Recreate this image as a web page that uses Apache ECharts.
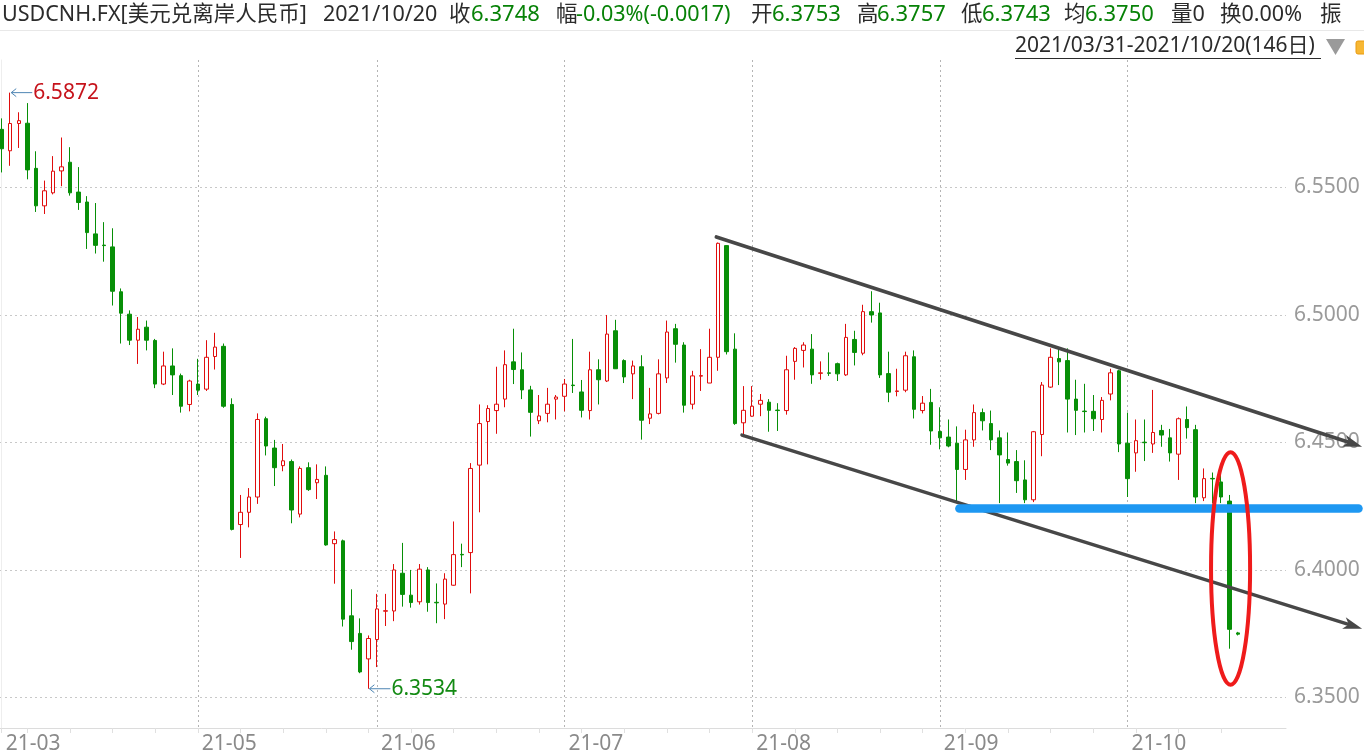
<!DOCTYPE html>
<html><head><meta charset="utf-8">
<script src="https://cdn.jsdelivr.net/npm/echarts@6/dist/echarts.min.js"></script>
<style>html,body{margin:0;padding:0;background:#fff}#c{width:1364px;height:756px}</style>
</head><body><div id="c"></div>
<script>
// ---- categories (every trading day, 146) ----
const dates = [
'2021-03-31',
'2021-04-01','2021-04-02','2021-04-05','2021-04-06','2021-04-07','2021-04-08','2021-04-09','2021-04-12','2021-04-13','2021-04-14','2021-04-15','2021-04-16','2021-04-19','2021-04-20','2021-04-21','2021-04-22','2021-04-23','2021-04-26','2021-04-27','2021-04-28','2021-04-29','2021-04-30',
'2021-05-03','2021-05-04','2021-05-05','2021-05-06','2021-05-07','2021-05-10','2021-05-11','2021-05-12','2021-05-13','2021-05-14','2021-05-17','2021-05-18','2021-05-19','2021-05-20','2021-05-21','2021-05-24','2021-05-25','2021-05-26','2021-05-27','2021-05-28','2021-05-31',
'2021-06-01','2021-06-02','2021-06-03','2021-06-04','2021-06-07','2021-06-08','2021-06-09','2021-06-10','2021-06-11','2021-06-14','2021-06-15','2021-06-16','2021-06-17','2021-06-18','2021-06-21','2021-06-22','2021-06-23','2021-06-24','2021-06-25','2021-06-28','2021-06-29','2021-06-30',
'2021-07-01','2021-07-02','2021-07-05','2021-07-06','2021-07-07','2021-07-08','2021-07-09','2021-07-12','2021-07-13','2021-07-14','2021-07-15','2021-07-16','2021-07-19','2021-07-20','2021-07-21','2021-07-22','2021-07-23','2021-07-26','2021-07-27','2021-07-28','2021-07-29','2021-07-30',
'2021-08-02','2021-08-03','2021-08-04','2021-08-05','2021-08-06','2021-08-09','2021-08-10','2021-08-11','2021-08-12','2021-08-13','2021-08-16','2021-08-17','2021-08-18','2021-08-19','2021-08-20','2021-08-23','2021-08-24','2021-08-25','2021-08-26','2021-08-27','2021-08-30','2021-08-31',
'2021-09-01','2021-09-02','2021-09-03','2021-09-06','2021-09-07','2021-09-08','2021-09-09','2021-09-10','2021-09-13','2021-09-14','2021-09-15','2021-09-16','2021-09-17','2021-09-20','2021-09-21','2021-09-22','2021-09-23','2021-09-24','2021-09-27','2021-09-28','2021-09-29','2021-09-30',
'2021-10-01','2021-10-04','2021-10-05','2021-10-06','2021-10-07','2021-10-08','2021-10-11','2021-10-12','2021-10-13','2021-10-14','2021-10-15','2021-10-18','2021-10-19','2021-10-20'
];

// ---- OHLC series ----
const openP = [
6.5728,6.5644,6.5751,6.5752,6.5575,6.5428,6.5479,6.5565,6.5599,6.5482,
6.5443,6.5318,6.5274,6.5267,6.5091,6.5003,6.4901,6.4952,6.4900,6.4729,
6.4800,6.4762,6.4649,6.4729,6.4709,6.4837,6.4877,6.4649,6.4178,6.4226,
6.4286,6.4593,6.4478,6.4409,6.4425,6.4219,6.4401,6.4342,6.4371,6.4103,
6.4114,6.3820,6.3751,6.3651,6.3727,6.3838,6.3839,6.3987,6.3901,6.3875,
6.4000,6.3873,6.3866,6.3940,6.4061,6.4068,6.4411,6.4582,6.4625,6.4670,
6.4816,6.4785,6.4706,6.4585,6.4614,6.4670,6.4681,6.4725,6.4698,6.4625,
6.4785,6.4741,6.4938,6.4821,6.4769,6.4797,6.4595,6.4614,6.4753,6.4946,
6.4882,6.4650,6.4760,6.4733,6.4834,6.5272,6.4866,6.4577,6.4603,6.4650,
6.4658,6.4627,6.4625,6.4818,6.4861,6.4866,6.4771,6.4773,6.4809,6.4765,
6.4904,6.4850,6.5013,6.5008,6.4770,6.4700,6.4705,6.4836,6.4625,6.4657,
6.4543,6.4521,6.4497,6.4394,6.4510,6.4617,6.4574,6.4518,6.4433,6.4425,
6.4353,6.4275,6.4531,6.4717,6.4829,6.4821,6.4670,6.4623,6.4622,6.4590,
6.4690,6.4781,6.4497,6.4459,6.4501,6.4494,6.4547,6.4518,6.4454,6.4590,
6.4550,6.4283,6.4359,6.4345,6.4270,6.3753
];
const closeP = [
6.5652,6.5751,6.5762,6.5569,6.5428,6.5487,6.5564,6.5581,6.5479,6.5441,
6.5323,6.5273,6.5272,6.5093,6.5007,6.4901,6.4944,6.4901,6.4729,6.4800,
6.4765,6.4642,6.4741,6.4705,6.4834,6.4874,6.4642,6.4159,6.4226,6.4286,
6.4590,6.4486,6.4401,6.4428,6.4235,6.4398,6.4315,6.4355,6.4098,6.4119,
6.3807,6.3719,6.3600,6.3731,6.3847,6.3840,6.4000,6.3904,6.3872,6.4003,
6.3872,6.3871,6.3964,6.4060,6.4059,6.4398,6.4574,6.4633,6.4650,6.4805,
6.4786,6.4706,6.4618,6.4604,6.4650,6.4678,6.4729,6.4723,6.4626,6.4785,
6.4746,6.4925,6.4789,6.4757,6.4800,6.4587,6.4612,6.4769,6.4933,6.4885,
6.4646,6.4761,6.4762,6.4834,6.5281,6.4856,6.4574,6.4626,6.4642,6.4665,
6.4626,6.4625,6.4785,6.4869,6.4882,6.4765,6.4773,6.4771,6.4769,6.4912,
6.4853,6.5013,6.5000,6.4765,6.4697,6.4702,6.4840,6.4630,6.4654,6.4545,
6.4518,6.4486,6.4394,6.4510,6.4617,6.4585,6.4510,6.4451,6.4419,6.4350,
6.4275,6.4542,6.4725,6.4834,6.4816,6.4670,6.4626,6.4621,6.4593,6.4665,
6.4773,6.4494,6.4358,6.4507,6.4499,6.4539,6.4529,6.4459,6.4593,6.4558,
6.4286,6.4358,6.4357,6.4286,6.3767,6.3748
];
const lowP = [
6.5559,6.5585,6.5655,6.5532,6.5404,6.5396,6.5473,6.5505,6.5468,6.5412,
6.5259,6.5241,6.5209,6.5037,6.4888,6.4882,6.4808,6.4861,6.4713,6.4725,
6.4686,6.4617,6.4622,6.4686,6.4702,6.4786,6.4636,6.4155,6.4047,6.4167,
6.4259,6.4449,6.4329,6.4387,6.4183,6.4206,6.4310,6.4278,6.4095,6.3946,
6.3778,6.3687,6.3595,6.3534,6.3619,6.3780,6.3799,6.3856,6.3852,6.3864,
6.3836,6.3791,6.3807,6.3938,6.4011,6.3908,6.4226,6.4414,6.4534,6.4638,
6.4729,6.4670,6.4523,6.4572,6.4579,6.4590,6.4622,6.4694,6.4598,6.4590,
6.4649,6.4737,6.4788,6.4733,6.4670,6.4511,6.4572,6.4610,6.4733,6.4813,
6.4617,6.4630,6.4702,6.4733,6.4781,6.4845,6.4569,6.4521,6.4601,6.4603,
6.4542,6.4545,6.4609,6.4746,6.4794,6.4730,6.4746,6.4761,6.4741,6.4761,
6.4802,6.4842,6.4970,6.4753,6.4658,6.4681,6.4697,6.4594,6.4614,6.4491,
6.4473,6.4481,6.4262,6.4353,6.4483,6.4547,6.4470,6.4262,6.4409,6.4302,
6.4262,6.4266,6.4446,6.4714,6.4725,6.4539,6.4529,6.4539,6.4545,6.4539,
6.4665,6.4462,6.4286,6.4385,6.4427,6.4459,6.4483,6.4425,6.4353,6.4515,
6.4262,6.4270,6.4262,6.4262,6.3691,6.3743
];
const highP = [
6.5771,6.5872,6.5795,6.5831,6.5642,6.5527,6.5623,6.5696,6.5658,6.5580,
6.5466,6.5439,6.5364,6.5340,6.5104,6.5018,6.4992,6.4978,6.4906,6.4856,
6.4869,6.4770,6.4746,6.4828,6.4901,6.4930,6.4888,6.4673,6.4294,6.4321,
6.4614,6.4601,6.4510,6.4494,6.4433,6.4406,6.4422,6.4414,6.4406,6.4151,
6.4119,6.3924,6.3810,6.3743,6.3906,6.3906,6.4023,6.4106,6.4000,6.4023,
6.4011,6.3947,6.3987,6.4190,6.4103,6.4419,6.4649,6.4646,6.4797,6.4861,
6.4946,6.4853,6.4722,6.4686,6.4714,6.4686,6.4749,6.4906,6.4745,6.4856,
6.4826,6.5000,6.4981,6.4826,6.4821,6.4842,6.4714,6.4826,6.4978,6.4965,
6.4893,6.4781,6.4866,6.4946,6.5284,6.5273,6.4928,6.4721,6.4721,6.4690,
6.4670,6.4654,6.4840,6.4874,6.4893,6.4925,6.4818,6.4853,6.4813,6.4965,
6.4938,6.5040,6.5093,6.5048,6.4856,6.4789,6.4856,6.4861,6.4682,6.4710,
6.4638,6.4590,6.4563,6.4550,6.4649,6.4633,6.4625,6.4547,6.4539,6.4470,
6.4430,6.4545,6.4737,6.4869,6.4874,6.4869,6.4746,6.4730,6.4686,6.4678,
6.4789,6.4785,6.4617,6.4590,6.4590,6.4706,6.4569,6.4553,6.4598,6.4641,
6.4569,6.4398,6.4382,6.4382,6.4294,6.3757
];

// ---- axis ticks / labels ----
const monthLabelIdx = [0, 23, 44, 66, 88, 110, 132];
const monthGridIdx = [23, 44, 66, 88, 110, 132];
const weekTickIdx = [0,3,8,13,18,23,28,33,38,43,48,53,58,63,68,73,78,83,88,93,98,103,108,113,118,123,128,133,138,143];
const yTickValues = [6.35, 6.40, 6.45, 6.50, 6.55];

// ---- annotations (data space: [index, price]) ----
const upperTrend = [[83.8, 6.5306], [159.3, 6.4486]];
const lowerTrend = [[86.8, 6.4529], [159.3, 6.3772]];
const supportLine = [[112.3, 6.4241], [159.1, 6.4241]];
const ellipseCenter = [144.1, 6.4006];
const ellipseRadius = [2.29, 0.0456];
const maxPoint = [1, 6.5872];
const minPoint = [43, 6.3534];

// ---- header texts ----
const headerItems = [
  ['USDCNH.FX[美元兑离岸人民币]', 2, 'k', 21.5],
  ['2021/10/20', 323, 'k', 21.5],
  ['收', 449, 'k', 21.5], ['6.3748', 471, 'g', 22],
  ['幅', 556, 'k', 21.5], ['-0.03%(-0.0017)', 576, 'g', 21.5],
  ['开', 751, 'k', 21.5], ['6.3753', 772, 'g', 22],
  ['高', 857, 'k', 21.5], ['6.3757', 877, 'g', 22],
  ['低', 961, 'k', 21.5], ['6.3743', 982, 'g', 22],
  ['均', 1064, 'k', 21.5], ['6.3750', 1085, 'g', 22],
  ['量0', 1171, 'k', 21.5],
  ['换0.00%', 1220, 'k', 21.5],
  ['振', 1320, 'k', 21.5]
];
const rangeText = '2021/03/31-2021/10/20(146日)';

const FONT = "'Noto Sans', 'Noto Sans CJK SC', sans-serif";
const RED = '#e00d0d', GREEN = '#078f07';

const chart = echarts.init(document.getElementById('c'), null, {renderer: 'canvas'});

function renderAnno(params, api) {
  const P = p => api.coord(p);
  const kids = [];
  const seg = (a, b, w, color, cap) => ({type: 'line', shape: {x1: a[0], y1: a[1], x2: b[0], y2: b[1]},
    style: {stroke: color, lineWidth: w, lineCap: cap || 'butt'}});
  const head = (a, b, color, len, half) => {
    const dx = b[0] - a[0], dy = b[1] - a[1], L = Math.hypot(dx, dy), ux = dx / L, uy = dy / L;
    const bx = b[0] - ux * len, by = b[1] - uy * len;
    return {type: 'polygon', shape: {points: [[b[0] + ux * 2, b[1] + uy * 2], [bx - uy * half, by + ux * half], [b[0] - ux * len * 0.7, b[1] - uy * len * 0.7], [bx + uy * half, by - ux * half]]},
      style: {fill: color}};
  };
  // trend lines
  [upperTrend, lowerTrend].forEach((t, k) => {
    const a = P(t[0]), b = P(t[1]);
    const dx = b[0] - a[0], dy = b[1] - a[1], L = Math.hypot(dx, dy);
    const bb = [b[0] - dx / L * 8, b[1] - dy / L * 8];
    kids.push(seg(a, bb, k === 0 ? 3.6 : 3.4, '#474747', 'round'));
    kids.push(head(a, b, '#474747', 17, 6));
  });
  // support line
  const s0 = P(supportLine[0]), s1 = P(supportLine[1]);
  kids.push(seg(s0, s1, 8.5, '#1e98f2', 'round'));
  // ellipse
  const c = P(ellipseCenter), sz = api.size([ellipseRadius[0], ellipseRadius[1]]);
  kids.push({type: 'ellipse', shape: {cx: c[0], cy: c[1], rx: sz[0], ry: sz[1]},
    style: {fill: 'none', stroke: '#ef1b1b', lineWidth: 4}});
  // extreme markers
  const mark = (pt, text, color) => {
    const p = P(pt);
    const x0 = p[0] + 1, x1 = p[0] + 22, y = p[1];
    kids.push(seg([x0, y], [x1, y], 1, '#4f86b4'));
    kids.push(seg([x0, y], [x0 + 5, y - 4], 1, '#4f86b4'));
    kids.push(seg([x0, y], [x0 + 5, y + 4], 1, '#4f86b4'));
    kids.push({type: 'text', x: x1 + 1, y: y, style: {text: text, fill: color, font: '21px ' + FONT,
      verticalAlign: 'middle', textVerticalAlign: 'middle'}});
  };
  mark(maxPoint, highP[maxPoint[0]].toFixed(4), '#c6131b');
  mark(minPoint, lowP[minPoint[0]].toFixed(4), '#138a13');
  return {type: 'group', children: kids};
}

const graphics = [
  {type: 'line', shape: {x1: 0, y1: 30.5, x2: 1364, y2: 30.5}, style: {stroke: '#e8e8e8', lineWidth: 1}, silent: true}
];
headerItems.forEach(h => {
  graphics.push({type: 'text', x: h[1], y: 15, silent: true,
    style: {text: h[0], fill: h[2] === 'g' ? '#078207' : '#2b2b2b', font: h[3] + 'px ' + FONT,
      verticalAlign: 'middle', textVerticalAlign: 'middle'}});
});
graphics.push({type: 'text', x: 1015, y: 46, silent: true,
  style: {text: rangeText, fill: '#2b2b2b', font: '21px ' + FONT, verticalAlign: 'middle', textVerticalAlign: 'middle'}});
graphics.push({type: 'line', shape: {x1: 1015, y1: 58.5, x2: 1321, y2: 58.5}, style: {stroke: '#2b2b2b', lineWidth: 1}, silent: true});
graphics.push({type: 'polygon', shape: {points: [[1326, 39], [1345, 39], [1335.5, 55]]}, style: {fill: '#9a9a9a'}, silent: true});
graphics.push({type: 'rect', shape: {x: 1356, y: 41, width: 12, height: 13, r: 2}, style: {fill: '#f7b733', stroke: '#e89a10', lineWidth: 1}, silent: true});

const option = {
  animation: false,
  backgroundColor: '#ffffff',
  grid: {left: 0, right: 78, top: 60, bottom: 28},
  xAxis: [{
    type: 'value', min: -0.2, max: 150.6,
    axisLine: {show: true, lineStyle: {color: '#dcdcdc', width: 1}},
    axisTick: {show: false, customValues: monthGridIdx},
    splitLine: {show: true, lineStyle: {color: '#b4b4b4', type: [2, 3], width: 1}},
    axisLabel: {show: true, customValues: monthLabelIdx, formatter: v => dates[v].slice(2, 7),
      align: 'left', padding: [0, 0, 0, 4], margin: 6, color: '#8a8a8a', fontSize: 21, fontFamily: FONT}
  }, {
    type: 'value', min: -0.2, max: 150.6, position: 'bottom',
    axisLine: {show: false},
    axisTick: {show: true, customValues: weekTickIdx, length: 5, lineStyle: {color: '#e0e0e0'}},
    axisLabel: {show: false},
    splitLine: {show: false}
  }],
  yAxis: {
    type: 'value', position: 'right', min: 6.338, max: 6.60, scale: true,
    axisLine: {show: true, lineStyle: {color: '#eeeeee'}},
    axisTick: {show: false, customValues: yTickValues},
    splitLine: {show: true, lineStyle: {color: '#c8c8c8', type: [2, 3], width: 1}},
    axisLabel: {show: true, customValues: yTickValues, formatter: v => v.toFixed(4), margin: 8,
      color: '#9a9a9a', fontSize: 21, fontFamily: FONT}
  },
  series: [{
    type: 'candlestick',
    xAxisIndex: 0,
    data: dates.map((d, i) => [i, openP[i], closeP[i], lowP[i], highP[i]]),
    encode: {x: 0, y: [1, 2, 3, 4]},
    barWidth: 4,
    itemStyle: {color: '#ffffff', color0: GREEN, borderColor: RED, borderColor0: GREEN, borderWidth: 1},
    z: 3
  }, {
    type: 'custom',
    xAxisIndex: 0,
    data: [[0, 6.5]],
    renderItem: renderAnno,
    clip: false,
    silent: true,
    z: 10
  }],
  graphic: graphics
};
chart.setOption(option);
</script></body></html>
